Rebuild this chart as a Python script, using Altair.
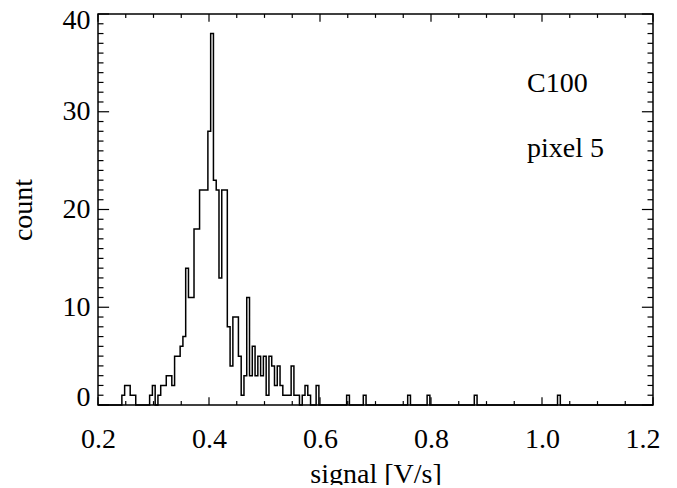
import altair as alt
import pandas as pd

# Histogram outline (run-length: left bin edge -> count holds until next edge)
edge_lo = [0.200, 0.243, 0.248, 0.258, 0.268, 0.293, 0.298, 0.303, 0.308, 0.313,
           0.323, 0.333, 0.338, 0.348, 0.353, 0.358, 0.363, 0.373, 0.383, 0.398,
           0.403, 0.408, 0.413, 0.418, 0.423, 0.433, 0.438, 0.443, 0.453, 0.458,
           0.463, 0.468, 0.473, 0.478, 0.483, 0.488, 0.493, 0.498, 0.503, 0.508,
           0.513, 0.518, 0.523, 0.528, 0.533, 0.548, 0.553, 0.563, 0.568, 0.573,
           0.578, 0.583, 0.593, 0.598, 0.648, 0.653, 0.678, 0.683, 0.758, 0.763,
           0.793, 0.798, 0.878, 0.883, 1.028, 1.033, 1.200]
counts = [0, 1, 2, 1, 0, 1, 2, 0, 1, 2,
          3, 2, 5, 6, 7, 14, 11, 18, 22, 28,
          38, 23, 22, 13, 22, 8, 4, 9, 5, 1,
          3, 11, 3, 6, 3, 5, 3, 5, 1, 5,
          4, 2, 4, 2, 1, 4, 1, 0, 1, 2,
          1, 0, 2, 0, 1, 0, 1, 0, 1, 0,
          1, 0, 1, 0, 1, 0, 0]

x_major = [0.2, 0.4, 0.6, 0.8, 1.0, 1.2]
x_minor = [0.25, 0.3, 0.35, 0.45, 0.5, 0.55, 0.65, 0.7, 0.75, 0.85, 0.9, 0.95,
           1.05, 1.1, 1.15]
y_major = [0, 10, 20, 30, 40]
y_minor = [1, 2, 3, 4, 5, 6, 7, 8, 9, 11, 12, 13, 14, 15, 16, 17, 18, 19,
           21, 22, 23, 24, 25, 26, 27, 28, 29, 31, 32, 33, 34, 35, 36, 37, 38, 39]

labels = ["C100", "pixel 5"]

W, H = 555, 391
FONT = "Liberation Serif"
FS = 28

hist = pd.DataFrame({"signal": edge_lo, "count": counts})

xs = alt.Scale(domain=[0.2, 1.2], nice=False, zero=False)
ys = alt.Scale(domain=[0, 40], nice=False, zero=True)

base_x_axis = alt.Axis(values=x_major, format=".1f", ticks=False, tickSize=0, domain=False,
                       grid=False, labelFont=FONT, labelFontSize=FS, labelColor="black",
                       labelPadding=42, labelBaseline="alphabetic",
                       labelAlign={"condition": {"test": "datum.value > 1.19", "value": "right"},
                                   "value": "center"},
                       labelOffset={"condition": {"test": "datum.value > 1.19", "value": 7},
                                    "value": 0},
                       title="signal [V/s]", titleFont=FONT, titleFontSize=FS,
                       titleFontWeight="normal", titleColor="black",
                       titleBaseline="alphabetic", titleX=W / 2, titleY=77,
                       titleAlign="center", labelFlush=False)
base_y_axis = alt.Axis(values=y_major, format="d", ticks=False, tickSize=0, domain=False,
                       grid=False, labelFont=FONT, labelFontSize=FS, labelColor="black",
                       labelPadding=8, labelBaseline="middle", labelFlush=False,
                       labelOffset={"condition": [{"test": "datum.value > 39", "value": 6},
                                                  {"test": "datum.value < 1", "value": -8}],
                                    "value": 0},
                       title="count", titleFont=FONT, titleFontSize=FS,
                       titleFontWeight="normal", titleColor="black",
                       titleAngle=-90, titleBaseline="alphabetic", titleAlign="center",
                       titleX=-67, titleY=H / 2)

line = alt.Chart(hist).mark_line(interpolate="step-after", color="black",
                                 strokeWidth=1.5).encode(
    x=alt.X("signal:Q", scale=xs, axis=base_x_axis),
    y=alt.Y("count:Q", scale=ys, axis=base_y_axis),
)

def xticks(vals, length):
    df = pd.DataFrame({"v": vals})
    bot = alt.Chart(df).mark_rule(color="black", strokeWidth=1.2).encode(
        x=alt.X("v:Q", scale=xs), y=alt.value(H), y2=alt.value(H - length))
    top = alt.Chart(df).mark_rule(color="black", strokeWidth=1.2).encode(
        x=alt.X("v:Q", scale=xs), y=alt.value(0), y2=alt.value(length))
    return [bot, top]

def yticks(vals, length):
    df = pd.DataFrame({"v": vals})
    left = alt.Chart(df).mark_rule(color="black", strokeWidth=1.2).encode(
        y=alt.Y("v:Q", scale=ys), x=alt.value(0), x2=alt.value(length))
    right = alt.Chart(df).mark_rule(color="black", strokeWidth=1.2).encode(
        y=alt.Y("v:Q", scale=ys), x=alt.value(W), x2=alt.value(W - length))
    return [left, right]

ann_df = pd.DataFrame({"t": labels})
ann1 = alt.Chart(ann_df.iloc[[0]]).mark_text(font=FONT, fontSize=FS, align="left",
                                             baseline="alphabetic", color="black").encode(
    text="t:N", x=alt.value(429), y=alt.value(78))
ann2 = alt.Chart(ann_df.iloc[[1]]).mark_text(font=FONT, fontSize=FS, align="left",
                                             baseline="alphabetic", color="black").encode(
    text="t:N", x=alt.value(429), y=alt.value(143))

layers = [line] + xticks(x_major, 7.8) + xticks(x_minor, 3.9) + \
    yticks(y_major, 11.1) + yticks(y_minor, 5.5) + [ann1, ann2]

chart = alt.layer(*layers).properties(
    width=W, height=H,
    autosize=alt.AutoSizeParams(type="none"),
    padding={"left": 90, "top": 6, "right": 16, "bottom": 80},
    background="white",
).configure_view(stroke="black", strokeWidth=1.5)

chart.save("out.html", embed_options={"renderer": "svg", "actions": False})
